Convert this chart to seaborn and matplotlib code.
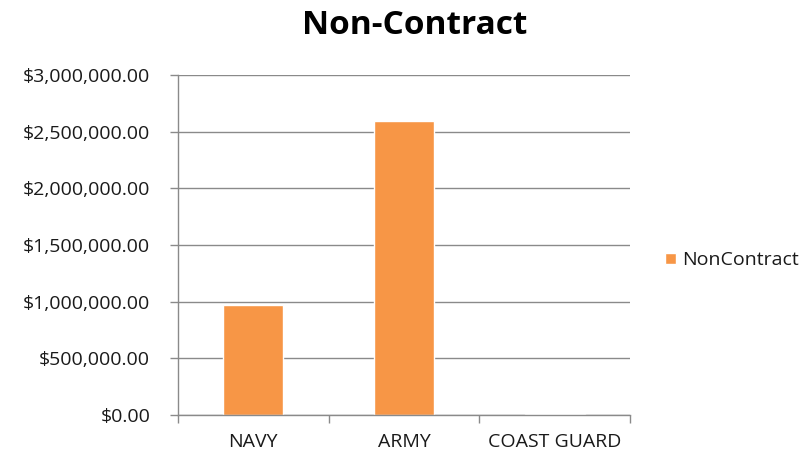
import matplotlib
matplotlib.use("Agg")
import matplotlib.pyplot as plt
import seaborn as sns
import pandas as pd
from matplotlib.ticker import FuncFormatter, FixedLocator

categories = ["NAVY", "ARMY", "COAST GUARD"]
values = [970000, 2590000, 12000]
series_name = "NonContract"
title = "Non-Contract"
yticks = [0, 500000, 1000000, 1500000, 2000000, 2500000, 3000000]

sns.set_theme(style="white")
plt.rcParams['font.family'] = ['Open Sans', 'DejaVu Sans']

df = pd.DataFrame({"branch": categories, "amount": values, "series": series_name})

fig = plt.figure(figsize=(8.05, 4.53), dpi=100)
ax = fig.add_axes([178/805, 1-415/453, (630-178)/805, (415-75)/453])

sns.barplot(data=df, x="branch", y="amount", hue="series", palette=["#F79646"],
            width=0.4, ax=ax, saturation=1)

ax.set_xlim(-0.5, 2.5)
ax.set_ylim(0, 3000000)
ax.yaxis.set_major_locator(FixedLocator(yticks))
ax.yaxis.set_major_formatter(FuncFormatter(lambda v, p: "${:,.2f}".format(v)))
ax.grid(axis="y", color="#8a8a8a", linewidth=1)
ax.set_axisbelow(True)
ax.set_xlabel("")
ax.set_ylabel("")

for s in ["top", "right"]:
    ax.spines[s].set_visible(False)
for s in ["left", "bottom"]:
    ax.spines[s].set_color("#8a8a8a")
    ax.spines[s].set_linewidth(1)

ax.tick_params(axis="y", which="major", length=6, width=1, color="#8a8a8a",
               direction="out", left=True, labelsize=14, labelcolor="#1a1a1a", pad=14)
ax.tick_params(axis="x", which="major", length=0, labelsize=14, labelcolor="#1a1a1a", pad=13)
ax.set_xticks([-0.5, 0.5, 1.5, 2.5], minor=True)
ax.tick_params(axis="x", which="minor", length=6, width=1, color="#8a8a8a", direction="out", bottom=True)

fig.suptitle(title, x=415/805, y=1-26/453, va="center", fontsize=24, fontweight="bold", color="#000000")

leg = ax.legend(loc="center left", bbox_to_anchor=(1.06, 0.455), frameon=False,
                fontsize=14, handlelength=0.55, handleheight=0.55, handletextpad=0.35,
                borderaxespad=0)
for t in leg.get_texts():
    t.set_color("#1a1a1a")

fig.savefig("out.png", dpi=100, facecolor="white")
